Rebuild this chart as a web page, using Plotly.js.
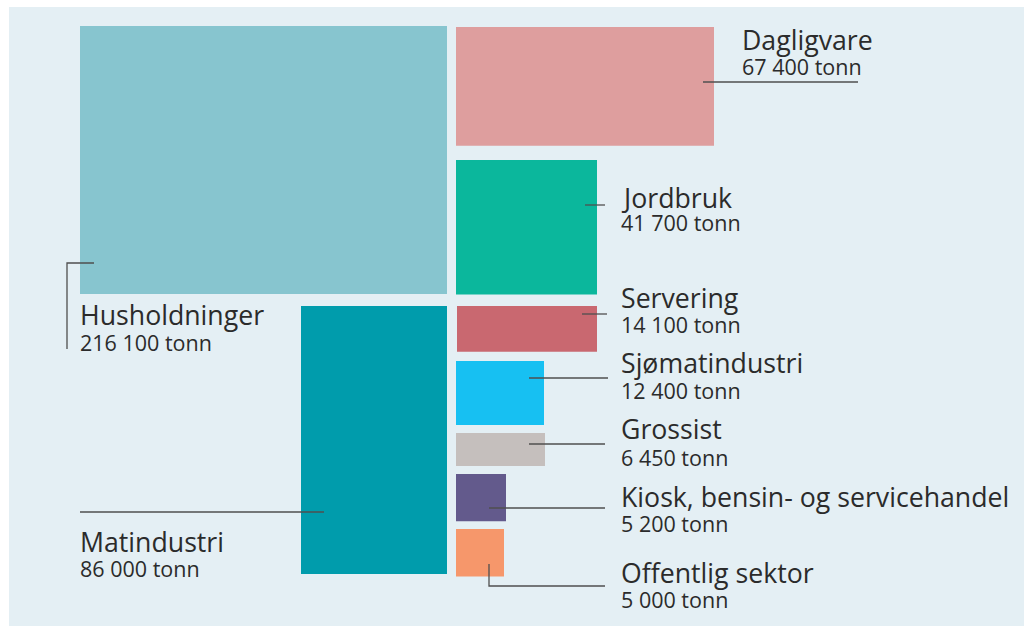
<!DOCTYPE html>
<html>
<head>
<meta charset="utf-8">
<script src="https://cdn.plot.ly/plotly-3.0.1.min.js"></script>
<style>html,body{margin:0;padding:0;background:#fff;}#chart{width:1024px;height:626px;}</style>
</head>
<body>
<div id="chart"></div>
<script>
// ---- data ----
const categories = ["Husholdninger", "Dagligvare", "Jordbruk", "Matindustri", "Servering",
                    "Sjømatindustri", "Grossist", "Kiosk, bensin- og servicehandel", "Offentlig sektor"];
const values = [216100, 67400, 41700, 86000, 14100, 12400, 6450, 5200, 5000];
const unit = "tonn";

// ---- styles ----
const colors = ["#87c5cf", "#de9e9e", "#0bb79c", "#009cac", "#c96870",
                "#17c0f2", "#c5bfbd", "#635a8c", "#f6976b"];

// ---- layout geometry (pixel-like axis units; area of each box = value * AREA) ----
const AREA = 0.455;              // square units per tonne
const boxX0 = [80, 456, 456, 301, 457, 456, 456, 456, 456];
const boxY0 = [26, 27, 160, 306, 306, 361, 433, 474, 529];
const boxW  = [367, 258, 141, 146, 140, 88, 89, 50, 48];

// leader lines (x list, y list)
const leaderX = [[94, 67, 67], [703, 858], [585, 605], [324, 80], [582, 607],
                 [529, 608], [529, 605], [489, 605], [489, 489, 605]];
const leaderY = [[263, 263, 349], [82, 82], [205, 205], [512, 512], [314, 314],
                 [378, 378], [444, 444], [508, 508], [564, 586, 586]];
// label anchors: left x, name centre y, value centre y
const labelX  = [79, 741, 620, 79, 620, 620, 620, 620, 620];
const labelY1 = [314, 39, 197, 541, 297, 362, 428, 496, 572];
const labelY2 = [342, 66, 222, 568, 324, 390, 457, 523, 599];

function fmt(v) {
  return String(v).replace(/\B(?=(\d{3})+(?!\d))/g, " ");
}

const traces = [];
categories.forEach((c, i) => {
  const x0 = boxX0[i], y0 = boxY0[i], w = boxW[i];
  const h = values[i] * AREA / w;
  traces.push({
    type: "scatter", mode: "lines", name: c,
    x: [x0, x0 + w, x0 + w, x0, x0],
    y: [y0, y0, y0 + h, y0 + h, y0],
    fill: "toself", fillcolor: colors[i],
    line: {width: 0, color: colors[i]},
    hoverinfo: "skip"
  });
});
categories.forEach((c, i) => {
  traces.push({
    type: "scatter", mode: "lines", name: c + " leader",
    x: leaderX[i], y: leaderY[i],
    line: {width: 1.3, color: "#4f4f4f"},
    hoverinfo: "skip"
  });
});

const annotations = [];
const font = "'Open Sans', 'Noto Sans', sans-serif";
categories.forEach((c, i) => {
  annotations.push({
    x: labelX[i], y: labelY1[i], xref: "x", yref: "y",
    text: c, showarrow: false, xanchor: "left", yanchor: "middle", borderpad: 0,
    font: {family: font, size: 26.7, color: "#2b2b2b"}
  });
  annotations.push({
    x: labelX[i], y: labelY2[i], xref: "x", yref: "y",
    text: fmt(values[i]) + " " + unit, showarrow: false, xanchor: "left", yanchor: "middle", borderpad: 0,
    font: {family: font, size: 21.5, color: "#2b2b2b"}
  });
});

const layout = {
  width: 1024, height: 626,
  margin: {l: 9, r: 0, t: 7, b: 0, pad: 0},
  paper_bgcolor: "#ffffff",
  plot_bgcolor: "#e4eff4",
  showlegend: false,
  xaxis: {range: [9, 1024], visible: false, fixedrange: true},
  yaxis: {range: [626, 7], visible: false, fixedrange: true},
  annotations: annotations
};

Plotly.newPlot("chart", traces, layout, {staticPlot: true, displayModeBar: false});
</script>
</body>
</html>
